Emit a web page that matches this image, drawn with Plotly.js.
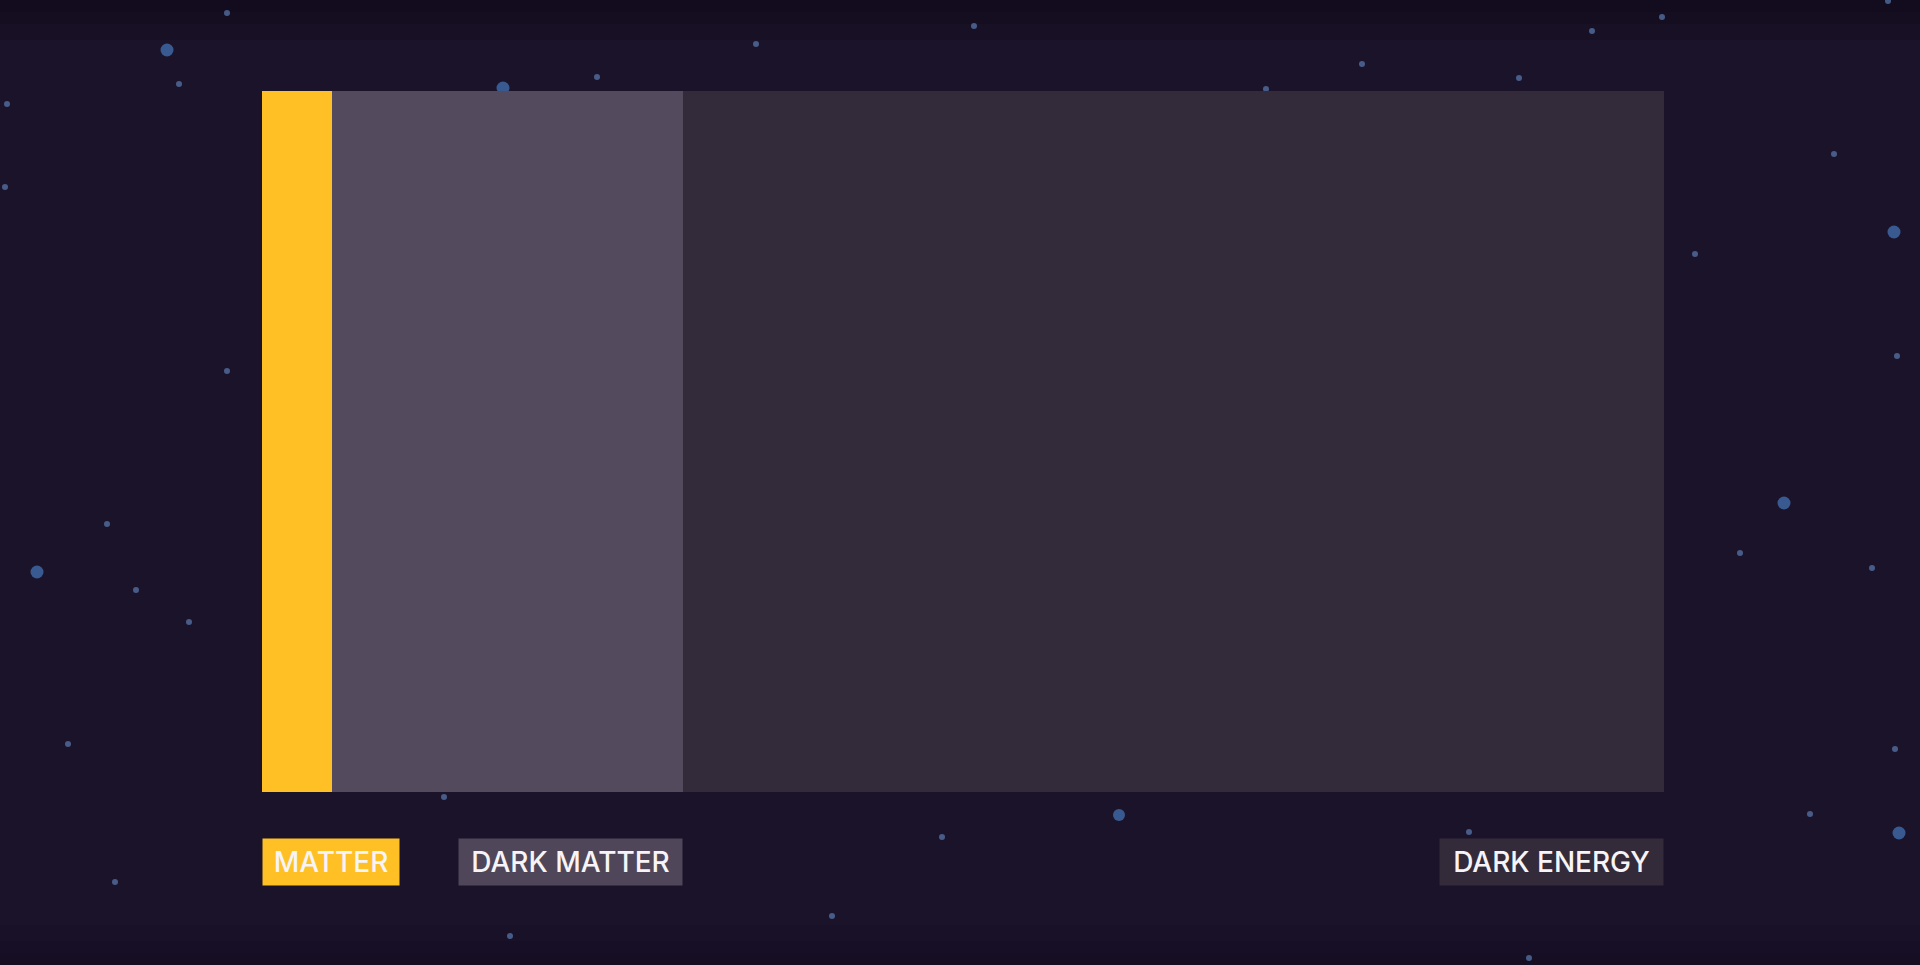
<!DOCTYPE html>
<html>
<head>
<meta charset="utf-8">
<script src="https://cdn.plot.ly/plotly-3.0.1.min.js"></script>
<style>
  html, body { margin: 0; padding: 0; background: #1b1329; overflow: hidden; }
  #chart { width: 1920px; height: 965px; }
</style>
</head>
<body>
<div id="chart"></div>
<script>
// ---- data ----
const categories = ['MATTER', 'DARK MATTER', 'DARK ENERGY'];
const shares = [5, 25, 70];            // percent of the universe's energy content
const segmentColors = ['#ffc025', '#534a5d', '#342b3a'];
const labelColors = ['#ffc025', '#4f4659', '#342b3a'];

// decorative background stars (page pixel coordinates)
const starX = [227, 167, 179, 7, 5, 503, 597, 756, 974, 1266, 1362, 1519, 1592, 1662, 1888,
               1834, 1894, 1695, 1897, 1784, 1740, 1872, 1895, 1810, 1899,
               227, 107, 37, 136, 189, 68, 115,
               444, 1119, 942, 1469, 832, 510, 1529];
const starY = [13, 50, 84, 104, 187, 88, 77, 44, 26, 89, 64, 78, 31, 17, 1,
               154, 232, 254, 356, 503, 553, 568, 749, 814, 833,
               371, 524, 572, 590, 622, 744, 882,
               797, 815, 837, 832, 916, 936, 958];
const starSize = [6, 13, 6, 6, 6, 13, 6, 6, 6, 6, 6, 6, 6, 6, 6,
                  6, 13, 6, 6, 13, 6, 6, 6, 6, 13,
                  6, 6, 13, 6, 6, 6, 6,
                  6, 12, 6, 6, 6, 6, 6];

// ---- build traces ----
const W = 1920, H = 965;
const starColors = starSize.map(s => s > 10 ? '#4677be' : '#5a7cb2');

const traces = [{
  type: 'scatter', mode: 'markers',
  x: starX, y: starY, xaxis: 'x', yaxis: 'y',
  marker: { size: starSize, color: starColors, line: { width: 0 } },
  hoverinfo: 'skip', showlegend: false
}];

categories.forEach((c, i) => {
  traces.push({
    type: 'bar', orientation: 'h',
    x: [shares[i]], y: ['universe'], name: c,
    xaxis: 'x2', yaxis: 'y2',
    marker: { color: segmentColors[i], line: { width: 0 } },
    hoverinfo: 'name+x', showlegend: false
  });
});

// label positions from cumulative shares
const cumEnd = [];
shares.reduce((acc, v, i) => { cumEnd[i] = acc + v; return acc + v; }, 0);
const labelWidths = [136, 223, 223];

const annotations = categories.map((c, i) => ({
  xref: 'x2', yref: 'paper',
  x: i === 0 ? 0 : cumEnd[i],
  xanchor: i === 0 ? 'left' : 'right',
  y: 1 - 862 / H, yanchor: 'middle',
  text: c, showarrow: false,
  bgcolor: labelColors[i],
  borderpad: 0, width: labelWidths[i], height: 46, align: 'center',
  font: { family: 'Inter, Lato, sans-serif', size: 28, color: '#f7f4f7', weight: 500 }
}));

// soft darkening toward the top and bottom edges
const bandShapes = [];
[12, 24, 40].forEach(h => {
  bandShapes.push({ type: 'rect', xref: 'paper', yref: 'paper', x0: 0, x1: 1, y0: 1 - h / H, y1: 1,
    fillcolor: '#0e0a18', opacity: 0.22, line: { width: 0 }, layer: 'below' });
  bandShapes.push({ type: 'rect', xref: 'paper', yref: 'paper', x0: 0, x1: 1, y0: 0, y1: h / H,
    fillcolor: '#0e0a18', opacity: 0.12, line: { width: 0 }, layer: 'below' });
});

const layout = {
  width: W, height: H,
  margin: { l: 0, r: 0, t: 0, b: 0, pad: 0 },
  paper_bgcolor: '#1b1329', plot_bgcolor: 'rgba(0,0,0,0)',
  barmode: 'stack', bargap: 0,
  showlegend: false,
  xaxis: { domain: [0, 1], range: [0, W], visible: false, fixedrange: true },
  yaxis: { domain: [0, 1], range: [H, 0], visible: false, fixedrange: true },
  xaxis2: { domain: [262 / W, 1664 / W], range: [0, 100], anchor: 'y2', visible: false, fixedrange: true },
  yaxis2: { domain: [1 - 792 / H, 1 - 91 / H], range: [-0.5, 0.5], anchor: 'x2', visible: false, fixedrange: true },
  shapes: bandShapes,
  annotations: annotations
};

Plotly.newPlot('chart', traces, layout, { displayModeBar: false, staticPlot: true });
</script>
</body>
</html>
